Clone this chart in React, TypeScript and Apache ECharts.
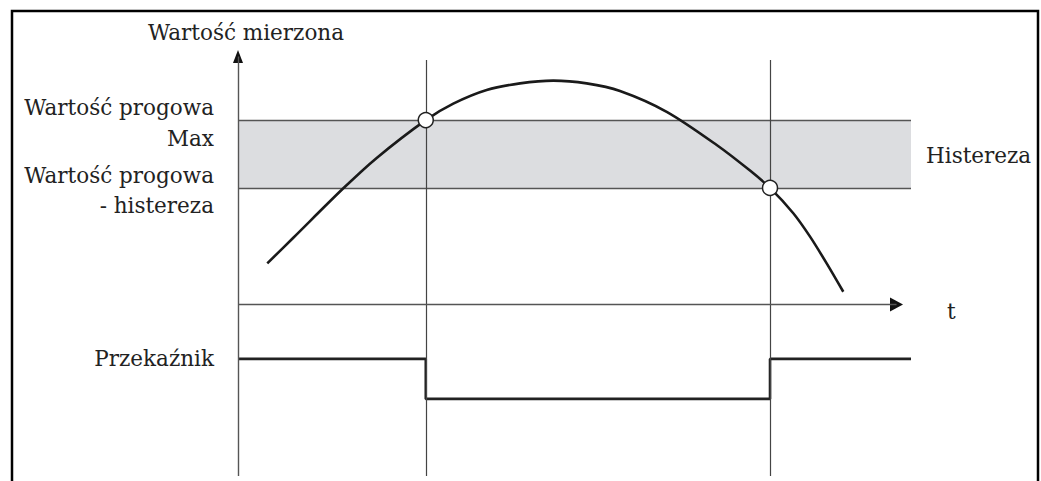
import React, { useEffect, useRef } from "react";
import * as echarts from "echarts";

// ---- data ----
const X_MIN = 0;
const X_MAX = 100;
const Y_MIN = -93;
const Y_MAX = 138;

const thresholdMax = 100;
const thresholdLow = 63.2;

const curveT = [4.35, 8.22, 15.65, 20.61, 27.9, 31.99, 36.95, 41.9, 46.85, 51.81, 56.76, 63.7, 71.13, 76.08, 79.05, 82.51, 85.0, 87.47, 89.94];
const curveV = [22.3, 36.2, 63.0, 79.5, 100, 108.9, 116.3, 119.9, 121.4, 119.9, 115.8, 104.5, 86.5, 72.6, 63.2, 49.5, 36.8, 22.3, 6.9];

const switchTimes = [27.9, 79.05];
const switchValues = [thresholdMax, thresholdLow];

const relayHigh = -29.5;
const relayLow = -51.2;
const relayT = [0, 27.9, 27.9, 79.05, 79.05, 100];
const relayV = [relayHigh, relayHigh, relayLow, relayLow, relayHigh, relayHigh];

const verticalTop = 132.6;
const tAxisEnd = 97.85;
const yAxisEnd = 134.5;

const yAxisTitle = "Wartość mierzona";
const leftLabels = ["Wartość progowa", "Max", "Wartość progowa", "- histereza"];
const bandLabel = "Histereza";
const timeLabel = "t";
const relayLabel = "Przekaźnik";

const FONT = "DejaVu Serif";
const TEXT_COLOR = "#222";

export default function App() {
  const ref = useRef<HTMLDivElement>(null);

  useEffect(() => {
    document.body.style.margin = "0";
    const chart = echarts.init(ref.current!, null, { renderer: "svg" });

    const txt = (text: string, x: number, y: number, align: string) => ({
      type: "text",
      x,
      y,
      style: {
        text,
        fill: TEXT_COLOR,
        font: `21.5px "${FONT}"`,
        align,
        verticalAlign: "middle",
      },
    });

    const option: any = {
      animation: false,
      backgroundColor: "#fff",
      grid: { left: 238, right: 130, top: 50, bottom: 5, containLabel: false },
      xAxis: { type: "value", min: X_MIN, max: X_MAX, show: false },
      yAxis: { type: "value", min: Y_MIN, max: Y_MAX, show: false },
      graphic: [
        {
          type: "rect",
          shape: { x: 12, y: 11, width: 1026, height: 520 },
          style: { fill: "none", stroke: "#000", lineWidth: 2.5 },
          z: 100,
        },
        txt(yAxisTitle, 246, 32, "center"),
        txt(leftLabels[0], 214, 107, "right"),
        txt(leftLabels[1], 214, 138, "right"),
        txt(leftLabels[2], 214, 175, "right"),
        txt(leftLabels[3], 214, 205, "right"),
        txt(bandLabel, 926, 155, "left"),
        txt(timeLabel, 947, 311, "left"),
        txt(relayLabel, 214, 358, "right"),
      ],
      series: [
        {
          name: "frame",
          type: "line",
          data: [],
          silent: true,
          z: 1,
          markArea: {
            silent: true,
            itemStyle: { color: "#dcdde0" },
            data: [[{ coord: [X_MIN, thresholdLow] }, { coord: [X_MAX, thresholdMax] }]],
          },
          markLine: {
            silent: true,
            symbol: ["none", "none"],
            label: { show: false },
            lineStyle: { color: "#555", width: 1.4, type: "solid" },
            data: [
              [{ coord: [X_MIN, thresholdMax] }, { coord: [X_MAX, thresholdMax] }],
              [{ coord: [X_MIN, thresholdLow] }, { coord: [X_MAX, thresholdLow] }],
              ...switchTimes.map((t) => [
                { coord: [t, Y_MIN], lineStyle: { color: "#444", width: 1.2 } },
                { coord: [t, verticalTop] },
              ]),
            ],
          },
        },
        {
          name: "axes",
          type: "line",
          data: [],
          silent: true,
          z: 3,
          markLine: {
            silent: true,
            symbol: ["none", "none"],
            label: { show: false },
            lineStyle: { color: "#555", width: 1.4, type: "solid" },
            data: [
              [{ coord: [X_MIN, 0] }, { coord: [tAxisEnd, 0] }],
              [{ coord: [X_MIN, Y_MIN] }, { coord: [X_MIN, yAxisEnd] }],
            ],
          },
        },
        {
          name: "arrows",
          type: "scatter",
          silent: true,
          z: 4,
          data: [
            { value: [tAxisEnd, 0], symbolRotate: -90, symbolSize: [14, 13] },
            { value: [X_MIN, yAxisEnd], symbolRotate: 0, symbolSize: [10, 13] },
          ],
          symbol: "triangle",
          itemStyle: { color: "#111", opacity: 1 },
        },
        {
          name: "Przekaźnik",
          type: "line",
          data: relayT.map((t, i) => [t, relayV[i]]),
          showSymbol: false,
          lineStyle: { color: "#222", width: 2.6 },
          z: 4,
        },
        {
          name: "Wartość mierzona",
          type: "line",
          data: curveT.map((t, i) => [t, curveV[i]]),
          smooth: 0.3,
          showSymbol: false,
          lineStyle: { color: "#1a1a1a", width: 2.6 },
          z: 5,
        },
        {
          name: "switch",
          type: "scatter",
          data: switchTimes.map((t, i) => [t, switchValues[i]]),
          symbol: "circle",
          symbolSize: 15,
          itemStyle: { color: "#fff", borderColor: "#222", borderWidth: 1.5, opacity: 1 },
          z: 6,
        },
      ],
    };

    chart.setOption(option);
    return () => chart.dispose();
  }, []);

  return <div ref={ref} style={{ width: 1041, height: 481 }} />;
}
